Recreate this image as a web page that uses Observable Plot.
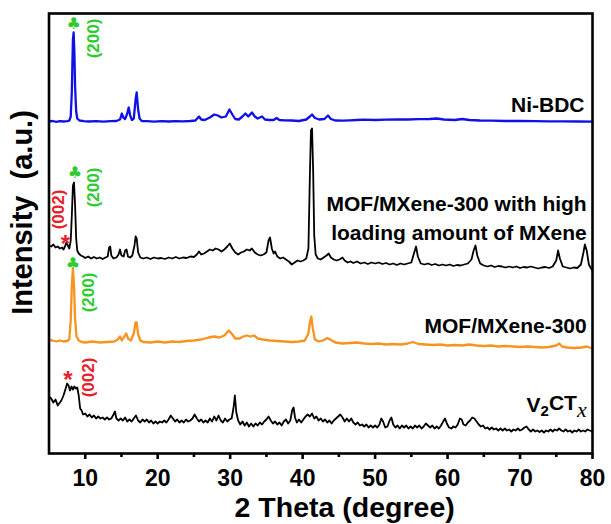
<!DOCTYPE html>
<html><head><meta charset="utf-8">
<script src="https://cdn.jsdelivr.net/npm/d3@7"></script>
<script src="https://cdn.jsdelivr.net/npm/@observablehq/plot@0.6"></script>
<style>
body{margin:0;background:#fff}
#chart svg{font-family:"Liberation Sans",Arial,sans-serif;background:#fff}
</style>
</head><body><div id="chart"></div>
<script>
// 2θ (degree), intensity above each pattern's own baseline (a.u.)
const niBDC = [[5,0],[5.5,0.5],[6,-0.3],[6.5,0.4],[7,0],[7.5,0.3],[7.8,0.8],[8,5],[8.15,30],[8.3,82],[8.4,89],[8.5,70],[8.6,35],[8.75,10],[8.9,3],[9.2,1],[9.8,0.3],[10.5,0],[11.5,0.4],[12.5,-0.2],[13.5,0.3],[14.3,0.5],[14.8,2],[15.05,8],[15.25,4],[15.5,2.5],[15.8,8],[16,14],[16.2,6],[16.45,1.5],[16.7,3],[16.95,22],[17.1,29],[17.3,12],[17.5,3],[17.8,0.5],[18.5,0.3],[19.5,-0.2],[20.5,0.3],[21.5,0],[22.5,0.4],[23.5,0.2],[24.5,0.5],[25.2,1],[25.7,5],[26,2],[26.5,1.5],[27.2,4],[27.8,7],[28.3,6],[28.8,4],[29.4,5],[29.9,12],[30.3,7],[30.7,2.5],[31.2,2],[31.7,5],[32.1,8],[32.5,5],[33,9],[33.4,5],[33.8,3],[34.4,5],[34.8,2],[35.4,1.5],[36,1.5],[36.4,3.5],[36.8,1.5],[37.5,1.2],[38.5,1],[39.5,0.5],[40.5,2],[41,5],[41.3,7],[41.7,3.5],[42.3,2],[43,2.5],[43.5,6],[43.9,2.5],[44.5,1],[45.5,0.8],[46.5,1.2],[47.5,1.5],[48.5,1.8],[50,1.5],[51.5,1.8],[53,2],[54.5,2],[56,2.3],[57.5,2.5],[58.5,3],[59.5,2],[61,1.5],[62,2.5],[63,1.5],[64.5,1],[66,0.8],[68,0.5],[70,0.5],[72,0.3],[74,0.2],[76,0.1],[78,0],[80,-0.2]];

const highLoading = [[5,17],[5.3,16],[5.6,18],[5.9,15],[6.2,16],[6.5,14],[6.8,15],[7,13],[7.2,16],[7.4,20],[7.6,17],[7.8,14],[8,22],[8.15,47],[8.3,77],[8.45,80],[8.6,57],[8.75,24],[8.9,12],[9.1,9],[9.4,7],[9.7,6],[10,4.5],[10.4,6],[10.8,4],[11.2,5.5],[11.6,4],[12,5],[12.4,3.5],[12.8,5],[13.1,6],[13.3,15],[13.45,16],[13.6,7],[13.9,4],[14.3,5],[14.6,8],[14.8,13],[15,7],[15.3,6],[15.5,12],[15.7,13],[15.9,6],[16.2,5],[16.5,7],[16.8,17],[16.95,26],[17.1,24],[17.3,10],[17.6,5],[18,4],[18.5,5],[19,3.5],[19.5,5],[20,4],[20.5,4.5],[21,3.5],[21.5,5],[22,4],[22.5,5.5],[23,4],[23.5,5],[24,4.5],[24.5,6],[25,5.5],[25.4,8],[25.7,11],[26,8],[26.4,9],[26.8,11],[27.2,13],[27.6,12],[28,14],[28.4,13],[28.8,11],[29.2,13],[29.6,16],[29.95,19],[30.3,14],[30.7,10],[31.1,8],[31.5,10],[31.9,11],[32.3,13],[32.7,12],[33,14],[33.4,10],[33.8,8],[34.2,7],[34.6,8],[35,10],[35.3,22],[35.5,25],[35.75,14],[36,9],[36.2,11],[36.5,6],[36.9,4],[37.3,5],[37.7,3],[38.1,1],[38.5,-2],[38.9,0],[39.3,2],[39.7,1],[40.1,2],[40.5,4],[40.8,14],[41,87],[41.15,132],[41.3,134],[41.45,92],[41.6,27],[41.8,8],[42.1,4],[42.5,3],[42.9,5],[43.3,7],[43.6,9],[43.9,5],[44.3,3],[44.7,2],[45.1,3],[45.5,5],[45.8,2],[46.2,0],[46.6,1],[47,-0.5],[47.5,1],[48,-1],[48.5,0],[49,-1.5],[49.5,0],[50,-1],[50.5,0],[51,-1.5],[51.5,-0.5],[52,-2],[52.5,-1],[53,-2.5],[53.5,-1],[54,-2],[54.5,-1],[55,0],[55.4,10],[55.65,16],[55.9,6],[56.3,-1],[56.8,-2],[57.3,-1],[57.8,-2.5],[58.3,-1.5],[58.8,-3],[59.3,-2],[59.8,-3],[60.3,-2],[60.8,-3.5],[61.3,-2.5],[61.8,-3],[62.3,-2],[62.8,-1],[63.3,3],[63.6,12],[63.85,17],[64.1,7],[64.5,-1],[65,-3],[65.5,-4],[66,-3],[66.5,-4.5],[67,-3.5],[67.5,-4],[68,-5],[68.5,-4],[69,-5],[69.5,-4],[70,-5.5],[70.5,-4.5],[71,-5],[71.5,-4],[72,-5],[72.5,-6],[73,-5],[73.5,-4.5],[74,-5.5],[74.5,-4],[75,2],[75.25,12],[75.5,4],[75.9,-4],[76.4,-5],[76.9,-6],[77.4,-5],[77.9,-5.5],[78.4,-2],[78.75,10],[78.95,18],[79.2,12],[79.5,-2],[79.8,-6],[80,-8]];

const mofMXene = [[5,1.5],[5.5,1],[6,0],[6.5,1],[7,0],[7.5,0.5],[7.8,2],[8,21],[8.15,56],[8.3,73],[8.45,56],[8.6,23],[8.8,5],[9.1,1],[9.5,-0.5],[10,-1],[11,0],[12,-1],[13,-0.5],[14,0],[14.5,2],[14.8,5],[15.05,1],[15.4,5],[15.65,8],[15.9,3],[16.3,1],[16.7,8],[16.95,19],[17.1,19],[17.3,7],[17.6,1],[18,-0.5],[19,-1],[20,0],[21,-1],[22,0],[23,-0.5],[24,0.5],[25,1],[26,2],[27,4],[27.8,5],[28.5,4],[29.2,6],[29.8,11],[30.2,8],[30.7,3],[31.3,3],[31.8,5],[32.3,6],[32.8,5],[33.3,6],[33.8,3],[34.5,2],[35.5,1],[36.5,0.5],[37.5,0],[38.5,-0.5],[39.5,0],[40.3,1],[40.8,8],[41,19],[41.2,25],[41.4,13],[41.7,2],[42.2,0],[42.8,1],[43.4,3.5],[43.8,2],[44.5,-1],[45.5,-2],[46.5,-1.5],[47.5,-1],[48.5,-2],[49.5,-2.5],[50.5,-2],[51.5,-3],[52.5,-2.5],[53.5,-3],[54.5,-2],[55.2,-0.5],[56,-2.5],[57,-3],[58,-3.5],[59,-3],[60,-4],[61,-3.5],[62,-4],[63,-3],[64,-4],[65,-4.5],[66,-4],[67,-5],[68,-4.5],[69,-5],[70,-5.5],[71,-5],[72,-5.5],[73,-6],[74,-5.5],[75,-4],[75.4,-2],[75.8,-5],[76.5,-6],[77.5,-6.5],[78.5,-6],[79.2,-5],[80,-7]];

const v2ctx = [[5,34],[5.3,32],[5.6,28],[5.9,31],[6.2,25],[6.4,27],[6.7,30],[7,35],[7.3,42],[7.5,47],[7.7,45],[7.9,40],[8.1,44],[8.3,41],[8.5,44],[8.7,42],[8.9,43],[9.1,35],[9.3,22],[9.5,20],[9.7,16],[10,17],[10.3,14],[10.6,16],[10.9,13],[11.2,15],[11.5,12],[11.8,14],[12.1,12],[12.4,13],[12.7,11],[13,13],[13.3,11],[13.6,12],[13.9,16],[14.1,19],[14.3,12],[14.6,10],[14.9,12],[15.2,10],[15.5,13],[15.8,9],[16.1,11],[16.4,9],[16.7,12],[17,15],[17.3,10],[17.6,8],[17.9,11],[18.2,9],[18.5,11],[18.8,8],[19.1,10],[19.4,7],[19.7,9],[20,7],[20.3,9],[20.6,8],[20.9,10],[21.2,8],[21.5,11],[21.8,15],[22.1,12],[22.4,9],[22.7,11],[23,8],[23.3,10],[23.6,8],[23.9,11],[24.2,9],[24.5,10],[24.8,12],[25.1,16],[25.4,12],[25.7,9],[26,11],[26.3,8],[26.6,10],[26.9,8],[27.2,12],[27.5,9],[27.8,14],[28.1,10],[28.4,15],[28.7,10],[29,8],[29.3,12],[29.6,9],[29.9,11],[30.2,12],[30.45,22],[30.65,35],[30.85,18],[31.1,10],[31.4,6],[31.7,9],[32,5],[32.3,8],[32.6,4],[32.9,7],[33.2,4],[33.5,7],[33.8,5],[34.1,8],[34.4,6],[34.7,9],[35,11],[35.3,14],[35.6,10],[35.9,7],[36.2,9],[36.5,6],[36.8,8],[37.1,5],[37.4,9],[37.7,11],[38,7],[38.3,10],[38.55,20],[38.75,23],[38.95,13],[39.2,8],[39.5,11],[39.8,8],[40.1,11],[40.4,14],[40.7,16],[41,14],[41.3,17],[41.6,12],[41.9,14],[42.2,10],[42.5,12],[42.8,9],[43.1,11],[43.4,8],[43.7,10],[44,7],[44.3,10],[44.6,12],[44.9,14],[45.2,16],[45.5,13],[45.8,9],[46.1,12],[46.4,9],[46.7,12],[47,8],[47.3,6],[47.6,8],[47.9,5],[48.2,6],[48.5,4],[48.8,6],[49.1,3],[49.4,5],[49.7,3],[50,5],[50.3,3],[50.6,6],[50.85,12],[51.1,9],[51.4,3],[51.7,4],[52,10],[52.25,13],[52.5,6],[52.8,3],[53.1,5],[53.4,2],[53.7,5],[54,3],[54.3,5],[54.6,2],[54.9,4],[55.2,2],[55.5,5],[55.8,3],[56.1,5],[56.4,2],[56.7,4],[57,7],[57.3,5],[57.6,3],[57.9,5],[58.2,2],[58.5,4],[58.8,2],[59.1,5],[59.4,9],[59.65,12],[59.9,7],[60.2,3],[60.5,2],[60.8,4],[61.1,3],[61.4,6],[61.7,12],[61.95,11],[62.2,6],[62.5,5],[62.8,8],[63.1,10],[63.4,13],[63.7,12],[64,9],[64.3,6],[64.6,4],[64.9,5],[65.2,2],[65.5,3],[65.8,1],[66.1,3],[66.4,1],[66.7,2],[67,0],[67.3,2],[67.6,0],[67.9,2],[68.2,0],[68.5,1],[68.8,-1],[69.1,1],[69.4,0],[69.7,2],[70,0],[70.3,1],[70.6,3],[70.9,4],[71.2,1],[71.5,-1],[71.8,1],[72.1,-1],[72.4,0],[72.7,-1.5],[73,0],[73.3,-2],[73.6,0],[73.9,-1],[74.2,1],[74.5,-1],[74.8,1],[75.1,0],[75.4,2],[75.7,0],[76,-1],[76.3,1],[76.6,-1],[76.9,0],[77.2,-2],[77.5,0],[77.8,-1],[78.1,1],[78.4,-1],[78.7,0],[79,-1],[79.3,1],[79.6,0],[80,-1]];

// vertical stacking offsets of the four patterns (a.u.)
const offsets = [332, 191, 112, 23];
const seriesColors = ["#1010e8", "#000000", "#f7931e", "#000000"];
const seriesNames = ["Ni-BDC", "MOF/MXene-300 with high\nloading amount of MXene", "MOF/MXene-300", "V2CTx"];
const labelX = [78.9, 79.2, 79.2, 79.2];
const labelY = [351, 237, 130, 51];

const xTicks = [10, 20, 30, 40, 50, 60, 70, 80];
const xMinorTicks = [15, 25, 35, 45, 55, 65, 75];

// peak annotations: [2θ, level, text, colour]
const clubs = [[8.42, 430], [8.56, 281], [8.3, 190]];
const millerLabels = [[11.1, 415, "(200)", "#2ecc2e"], [11.1, 266, "(200)", "#2ecc2e"], [6.35, 244, "(002)", "#e8202a"], [10.45, 161, "(200)", "#2ecc2e"], [10.4, 76, "(002)", "#e8202a"]];
const asterisks = [[7.25, 215], [7.6, 79]];

const allSeries = [niBDC, highLoading, mofMXene, v2ctx];
const lines = allSeries.map((s, k) => Plot.line(
  s.map(([t, i]) => ({t, v: i + offsets[k]})),
  {x: "t", y: "v", stroke: seriesColors[k], strokeWidth: k === 0 || k === 2 ? 2.3 : 1.8, strokeLinejoin: "round"}
));

const labels = seriesNames.map((n, k) => ({x: labelX[k], y: labelY[k], text: n}));

const chart = Plot.plot({
  width: 611, height: 524,
  marginLeft: 48.5, marginRight: 19, marginTop: 13, marginBottom: 71,
  style: {fontFamily: "'Liberation Sans', Arial, sans-serif", background: "#fff", overflow: "visible"},
  x: {domain: [5, 80], label: null},
  y: {domain: [0, 440], axis: null},
  marks: [
    ...lines,
    Plot.frame({stroke: "#000", strokeWidth: 2.6}),
    Plot.axisX(xTicks, {tickSize: 6, tickPadding: 10, fontSize: 23, fontWeight: "bold", strokeWidth: 2.6, label: null, fill: "#000"}),
    Plot.axisX(xMinorTicks, {tickSize: 4, tickFormat: () => "", strokeWidth: 2.6, label: null}),
    Plot.text(labels, {x: "x", y: "y", text: "text", textAnchor: "end", lineAnchor: "middle", fontSize: 21, fontWeight: "bold", lineHeight: 1.38, fill: "#000"}),
    Plot.text(clubs, {x: d => d[0], y: d => d[1], text: () => "\u2663", fill: "#2ecc2e", fontSize: 16, fontFamily: "DejaVu Sans", lineAnchor: "middle"}),
    Plot.text(millerLabels.filter(d => d[3] === "#2ecc2e"), {x: d => d[0], y: d => d[1], text: d => d[2], rotate: -90, fill: "#2ecc2e", fontSize: 17, fontWeight: "bold", lineAnchor: "middle"}),
    Plot.text(millerLabels.filter(d => d[3] === "#e8202a"), {x: d => d[0], y: d => d[1], text: d => d[2], rotate: -90, fill: "#e8202a", fontSize: 17, fontWeight: "bold", lineAnchor: "middle"}),
    Plot.text(asterisks, {x: d => d[0], y: d => d[1], text: () => "*", fill: "#e8202a", fontSize: 24, fontWeight: "bold", lineAnchor: "middle", dy: 6}),
    Plot.text(["2 Theta (degree)"], {x: 45.8, y: -54, text: d => d, fontSize: 28.5, fontWeight: "bold", lineAnchor: "middle", fill: "#000"}),
    Plot.text(["Intensity  (a.u.)"], {x: 1.35, y: 241, text: d => d, rotate: -90, fontSize: 29, fontWeight: "bold", lineAnchor: "middle", fill: "#000"})
  ]
});

document.getElementById("chart").appendChild(chart);

// subscripts in V2CTx
d3.select(chart).selectAll("text").filter(function () { return this.textContent === "V2CTx"; }).each(function () {
  const t = d3.select(this);
  t.text("");
  t.append("tspan").text("V");
  t.append("tspan").attr("dy", "0.3em").attr("font-size", "15").text("2");
  t.append("tspan").attr("dy", "-0.3em").text("CT");
  t.append("tspan").attr("dy", "0.3em").attr("font-family", "'Liberation Serif', 'Times New Roman', serif").attr("font-style", "italic").attr("font-weight", "normal").attr("font-size", "22").text("x");
});
</script>
</body></html>
